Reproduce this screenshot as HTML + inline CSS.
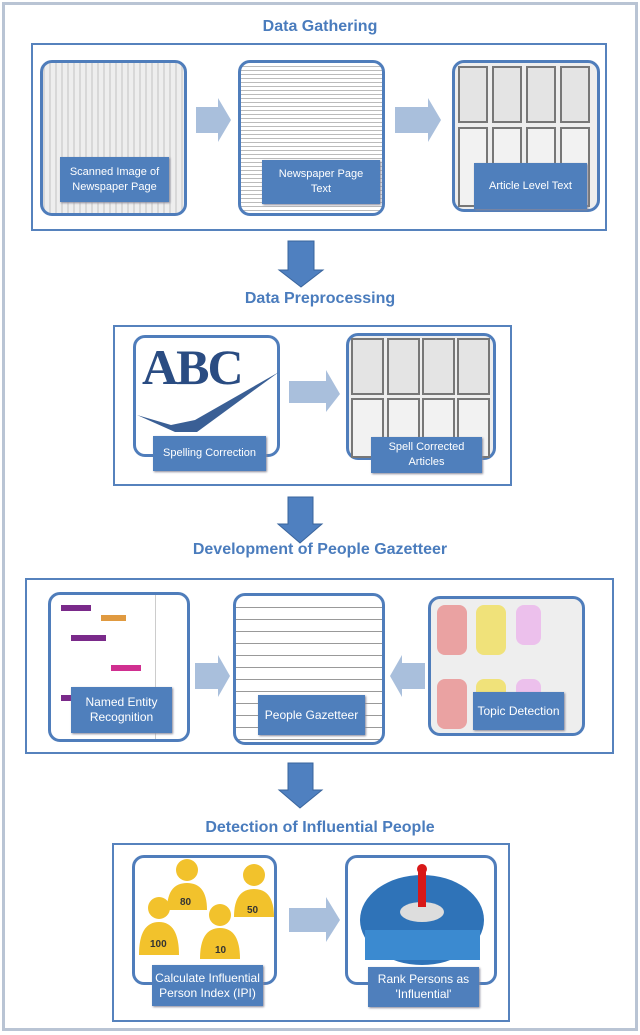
<!DOCTYPE html>
<html><head><meta charset="utf-8"><style>
*{margin:0;padding:0;box-sizing:border-box}
body{width:640px;height:1035px;background:#fff;position:relative;overflow:hidden;font-family:"Liberation Sans",sans-serif}
.a{position:absolute}
.frame{left:2px;top:2px;width:636px;height:1029px;border:3px solid #b9c4d4}
.title{position:absolute;left:0;width:640px;text-align:center;color:#4a7cbd;font-weight:bold;font-size:16px}
.box{position:absolute;border:2px solid #5682bd;background:#fff}
.img{position:absolute;border:3px solid #4f7dbb;border-radius:12px;background:#fafafa;overflow:hidden}
.lab{position:absolute;background:#4f7fbc;color:#fff;font-size:11px;text-align:center;display:flex;align-items:center;justify-content:center;line-height:15px;box-shadow:1px 1px 2px #889;z-index:5}
.lines{background:repeating-linear-gradient(#fff 0 3px,#bbb 3px 4px)}
</style></head><body>
<div class="a frame"></div>

<div class="title" style="top:18px">Data Gathering</div>
<div class="box" style="left:31px;top:43px;width:576px;height:188px"></div>
<div class="img" style="left:40px;top:60px;width:147px;height:156px;background:repeating-linear-gradient(90deg,#d8d8d8 0 2px,#eee 2px 6px)"></div>
<div class="img lines" style="left:238px;top:60px;width:147px;height:156px"></div>
<div class="img" style="left:452px;top:60px;width:148px;height:152px;background:#eee"></div>

<div class="title" style="top:290px">Data Preprocessing</div>
<div class="box" style="left:113px;top:325px;width:399px;height:161px"></div>
<div class="img" style="left:133px;top:335px;width:147px;height:122px;background:#fff"></div>
<div class="a" style="left:142px;top:338px;font-family:'Liberation Serif',serif;font-weight:bold;font-size:50px;color:#2a4c82;letter-spacing:-2px">ABC</div>
<svg class="a" style="left:135px;top:370px" width="145" height="65"><polygon points="2,45 40,62 62,62 144,2 60,50 36,55" fill="#3a5f95"/></svg>
<div class="img" style="left:346px;top:333px;width:150px;height:127px;background:#eee"></div>

<svg class="a" style="left:0;top:0;z-index:3" width="640" height="1035">
 <g fill="#777">
  <rect x="458" y="66" width="30" height="57"/><rect x="492" y="66" width="30" height="57"/><rect x="526" y="66" width="30" height="57"/><rect x="560" y="66" width="30" height="57"/>
  <rect x="458" y="127" width="30" height="80"/><rect x="492" y="127" width="30" height="80"/><rect x="526" y="127" width="30" height="80"/><rect x="560" y="127" width="30" height="80"/>
  <rect x="351" y="338" width="33" height="57"/><rect x="387" y="338" width="33" height="57"/><rect x="422" y="338" width="33" height="57"/><rect x="457" y="338" width="33" height="57"/>
  <rect x="351" y="398" width="33" height="60"/><rect x="387" y="398" width="33" height="60"/><rect x="422" y="398" width="33" height="60"/><rect x="457" y="398" width="33" height="60"/>
 </g>
 <g fill="#e4e4e4">
  <rect x="460" y="68" width="26" height="53"/><rect x="494" y="68" width="26" height="53"/><rect x="528" y="68" width="26" height="53"/><rect x="562" y="68" width="26" height="53"/>
  <rect x="460" y="129" width="26" height="76" fill="#f2f2f2"/><rect x="494" y="129" width="26" height="76" fill="#f2f2f2"/><rect x="528" y="129" width="26" height="76" fill="#f2f2f2"/><rect x="562" y="129" width="26" height="76" fill="#f2f2f2"/>
  <rect x="353" y="340" width="29" height="53"/><rect x="389" y="340" width="29" height="53"/><rect x="424" y="340" width="29" height="53"/><rect x="459" y="340" width="29" height="53"/>
  <rect x="353" y="400" width="29" height="56" fill="#f2f2f2"/><rect x="389" y="400" width="29" height="56" fill="#f2f2f2"/><rect x="424" y="400" width="29" height="56" fill="#f2f2f2"/><rect x="459" y="400" width="29" height="56" fill="#f2f2f2"/>
 </g>
 <g fill="#a9bfdc">
  <polygon points="196,107 218,107 218,98 231,120 218,142 218,133 196,133"/>
  <polygon points="395,107 428,107 428,98 441,120 428,142 428,133 395,133"/>
  <polygon points="289,381 326,381 326,370 340,394 326,412 326,403 289,403"/>
  <polygon points="195,663 218,663 218,655 230,676 218,697 218,689 195,689"/>
  <polygon points="425,663 402,663 402,655 390,676 402,697 402,689 425,689"/>
  <polygon points="289,908 326,908 326,897 340,920 326,942 326,932 289,932"/>
 </g>
 <g fill="#4f80c0" stroke="#3a659d" stroke-width="1">
  <polygon points="288,241 314,241 314,270 323,270 301,287 279,270 288,270"/>
  <polygon points="288,497 313,497 313,524 322,524 300,543 278,524 288,524"/>
  <polygon points="288,763 313,763 313,790 322,790 300,808 279,790 288,790"/>
 </g>
</svg>
<div class="lab" style="left:60px;top:157px;width:109px;height:45px">Scanned Image of<br>Newspaper Page</div>
<div class="lab" style="left:262px;top:160px;width:118px;height:44px">Newspaper Page<br>Text</div>
<div class="lab" style="left:474px;top:163px;width:113px;height:46px">Article Level Text</div>
<div class="lab" style="left:153px;top:436px;width:113px;height:35px">Spelling Correction</div>
<div class="lab" style="left:371px;top:437px;width:111px;height:36px">Spell Corrected<br>Articles</div>

<div class="title" style="top:541px">Development of People Gazetteer</div>
<div class="box" style="left:25px;top:578px;width:589px;height:176px"></div>
<div class="img" style="left:48px;top:592px;width:142px;height:150px;background:#fff">
 <div class="a" style="left:10px;top:10px;width:30px;height:6px;background:#7a2a8a"></div>
 <div class="a" style="left:50px;top:20px;width:25px;height:6px;background:#e09a40"></div>
 <div class="a" style="left:20px;top:40px;width:35px;height:6px;background:#7a2a8a"></div>
 <div class="a" style="left:60px;top:70px;width:30px;height:6px;background:#d02f90"></div>
 <div class="a" style="left:10px;top:100px;width:30px;height:6px;background:#7a2a8a"></div>
 <div class="a" style="left:104px;top:0;width:1px;height:150px;background:#ccc"></div>
</div>
<div class="img" style="left:233px;top:593px;width:152px;height:152px;background:repeating-linear-gradient(#fff 0 11px,#999 11px 12px)"></div>
<div class="img" style="left:428px;top:596px;width:157px;height:140px;background:#eee">
 <div class="a" style="left:6px;top:6px;width:30px;height:50px;background:#eaa2a2;border-radius:8px"></div>
 <div class="a" style="left:45px;top:6px;width:30px;height:50px;background:#f0e27a;border-radius:8px"></div>
 <div class="a" style="left:85px;top:6px;width:25px;height:40px;background:#ecc0ec;border-radius:8px"></div>
 <div class="a" style="left:6px;top:80px;width:30px;height:50px;background:#eaa2a2;border-radius:8px"></div>
 <div class="a" style="left:45px;top:80px;width:30px;height:50px;background:#f0e27a;border-radius:8px"></div>
 <div class="a" style="left:85px;top:80px;width:25px;height:40px;background:#ecc0ec;border-radius:8px"></div>
</div>
<div class="lab" style="left:71px;top:687px;width:101px;height:46px;font-size:12px">Named Entity<br>Recognition</div>
<div class="lab" style="left:258px;top:695px;width:107px;height:40px;font-size:12px">People Gazetteer</div>
<div class="lab" style="left:473px;top:692px;width:91px;height:38px;font-size:12px">Topic Detection</div>

<div class="title" style="top:819px">Detection of Influential People</div>
<div class="box" style="left:112px;top:843px;width:398px;height:179px"></div>
<div class="img" style="left:132px;top:855px;width:145px;height:130px;background:#fff"></div>
<svg class="a" style="left:132px;top:855px;z-index:3" width="150" height="120" font-family="Liberation Sans" font-size="10" font-weight="bold" fill="#f2c22c">
 <circle cx="55" cy="15" r="11"/><path d="M35 55 Q35 28 55 28 Q75 28 75 55Z"/>
 <circle cx="122" cy="20" r="11"/><path d="M102 62 Q102 34 122 34 Q142 34 142 62Z"/>
 <circle cx="27" cy="53" r="11"/><path d="M7 100 Q7 67 27 67 Q47 67 47 100Z"/>
 <circle cx="88" cy="60" r="11"/><path d="M68 104 Q68 73 88 73 Q108 73 108 104Z"/>
 <g fill="#333"><text x="48" y="50">80</text><text x="115" y="58">50</text><text x="18" y="92">100</text><text x="83" y="98">10</text></g>
</svg>
<div class="img" style="left:345px;top:855px;width:152px;height:130px;background:#fff"></div>
<svg class="a" style="left:350px;top:860px;z-index:3" width="142" height="120">
 <ellipse cx="72" cy="60" rx="62" ry="45" fill="#2f73b8"/>
 <ellipse cx="72" cy="52" rx="22" ry="10" fill="#ddd"/>
 <rect x="68" y="12" width="8" height="35" fill="#d81818"/><circle cx="72" cy="9" r="5" fill="#d81818"/>
 <rect x="15" y="70" width="115" height="30" fill="#3b8ad0"/>
</svg>
<div class="lab" style="left:152px;top:965px;width:111px;height:41px;font-size:12px">Calculate Influential<br>Person Index (IPI)</div>
<div class="lab" style="left:368px;top:967px;width:111px;height:40px;font-size:12px">Rank Persons as<br>'Influential'</div>
</body></html>
